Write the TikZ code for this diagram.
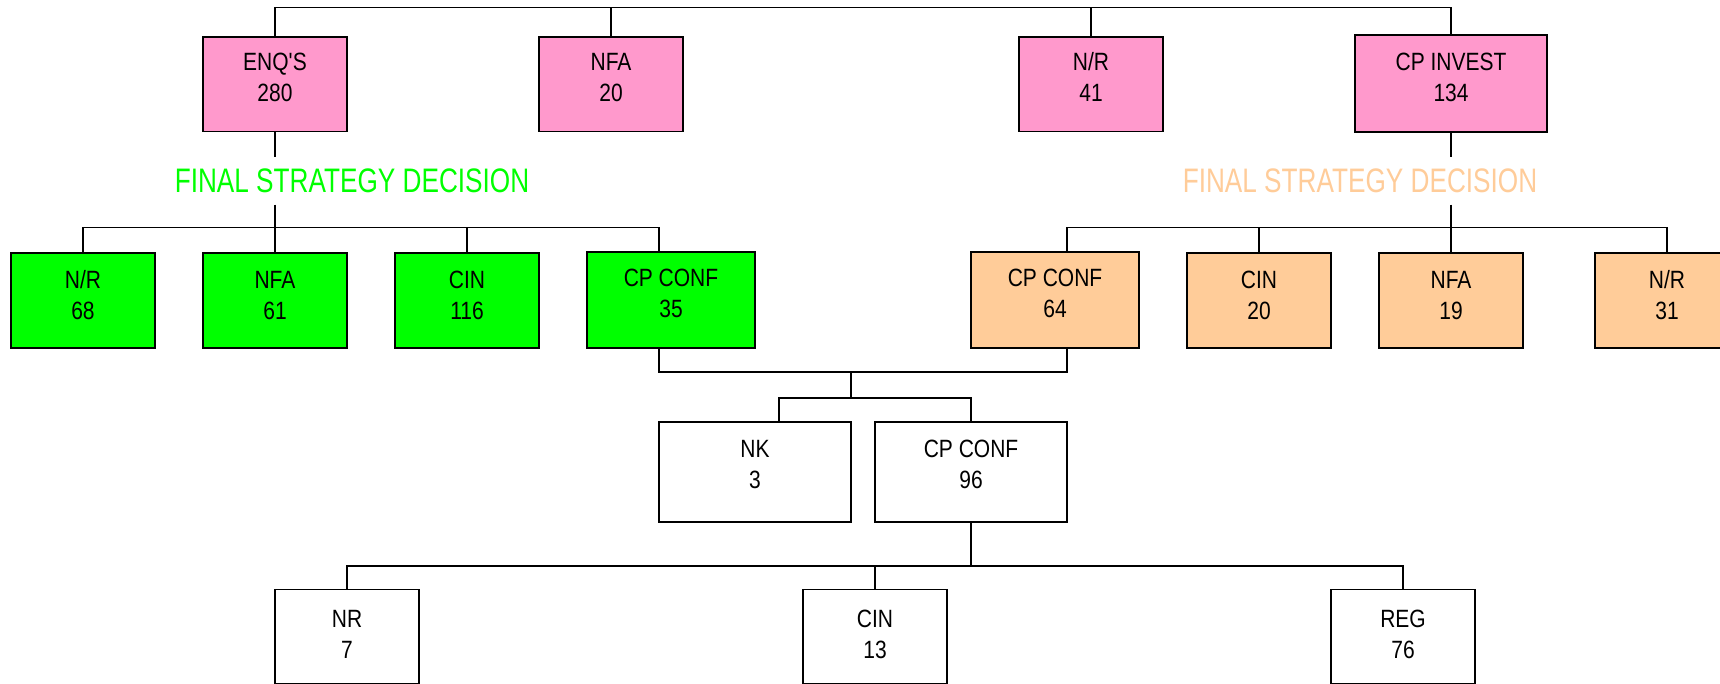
\documentclass[tikz,border=0pt]{standalone}
\usepackage{fontspec}
\newfontfamily\boxfont{Liberation Sans}[FakeStretch=0.84]
\newfontfamily\lblfont{Liberation Sans}[FakeStretch=0.77]
\definecolor{pinkfill}{HTML}{FF99CC}
\definecolor{greenfill}{HTML}{00FF00}
\definecolor{orangefill}{HTML}{FFCC99}
\newcommand\twol[3][18]{\raisebox{-#1pt}[0pt][0pt]{\begin{tabular}[b]{@{}c@{}}#2\\#3\end{tabular}}}
\tikzset{
  bx/.style={draw=black, line width=1.6pt, rectangle, inner sep=0pt,
    minimum width=144pt, minimum height=94.4pt, font=\boxfont\fontsize{25}{31}\selectfont},
  pinkbox/.style={bx, fill=pinkfill},
  greenbox/.style={bx, fill=greenfill},
  orangebox/.style={bx, fill=orangefill},
  whitebox/.style={bx, fill=white},
  lbl/.style={inner xsep=0pt, inner ysep=11.3pt, font=\lblfont\fontsize{34}{40}\selectfont},
  conn/.style={draw=black, line width=1.6pt}
}
\begin{document}
\begin{tikzpicture}[x=1pt,y=-1pt]
\useasboundingbox[fill=white] (0,0) rectangle (1720,684);
% top row
\node[pinkbox] (enq) at (275,84.5) {\twol[17.5]{ENQ'S}{280}};
\node[pinkbox] (nfa) at (611,84.5) {\twol[17.5]{NFA}{20}};
\node[pinkbox] (nr) at (1091,84.5) {\twol[17.5]{N/R}{41}};
\node[pinkbox, minimum width=192pt, minimum height=96.7pt] (cpi) at (1451,83.5) {\twol[18.5]{CP INVEST}{134}};
% labels
\node[lbl, text=greenfill] (gl) at (352,181) {FINAL STRATEGY DECISION};
\node[lbl, text=orangefill] (ol) at (1360,181) {FINAL STRATEGY DECISION};
% green row
\node[greenbox] (gnr) at (83,300.5) {\twol[19.5]{N/R}{68}};
\node[greenbox] (gnfa) at (275,300.5) {\twol[19.5]{NFA}{61}};
\node[greenbox] (gcin) at (467,300.5) {\twol[19.5]{CIN}{116}};
\node[greenbox, minimum width=168pt, minimum height=96pt] (gcc) at (671,299.8) {\twol[18.2]{CP CONF}{35}};
% orange row
\node[orangebox, minimum width=168pt, minimum height=96pt] (occ) at (1055,299.8) {\twol[18.2]{CP CONF}{64}};
\node[orangebox] (ocin) at (1259,300.5) {\twol[19.5]{CIN}{20}};
\node[orangebox] (onfa) at (1451,300.5) {\twol[19.5]{NFA}{19}};
\node[orangebox] (onr) at (1667,300.5) {\twol[19.5]{N/R}{31}};
% middle row
\node[whitebox, minimum width=192pt, minimum height=100pt] (nk) at (755,472) {\twol[16]{NK}{3}};
\node[whitebox, minimum width=192pt, minimum height=100pt] (wcc) at (971,472) {\twol[16]{CP CONF}{96}};
% bottom row
\node[whitebox, minimum height=94pt] (bnr) at (347,636.5) {\twol[21.5]{NR}{7}};
\node[whitebox, minimum height=94pt] (bcin) at (875,636.5) {\twol[21.5]{CIN}{13}};
\node[whitebox, minimum height=94pt] (breg) at (1403,636.5) {\twol[21.5]{REG}{76}};
% helper coordinates
\coordinate (topbar) at (0,7.5);
\coordinate (gbar) at (0,227.7);
\coordinate (obar) at (0,227.7);
\coordinate (mbar) at (0,372);
\coordinate (nbar) at (0,398);
\coordinate (bbar) at (0,566);
\coordinate (gccT) at ([xshift=-12pt]gcc.north);
\coordinate (gccB) at ([xshift=-12pt]gcc.south);
\coordinate (occT) at ([xshift=12pt]occ.north);
\coordinate (occB) at ([xshift=12pt]occ.south);
\coordinate (nkT) at ([xshift=24pt]nk.north);
\coordinate (mid) at (851,372);
% top connectors
\draw[conn] (enq.north) |- (cpi.north |- topbar) -- (cpi.north);
\draw[conn] (nfa.north) -- (nfa.north |- topbar);
\draw[conn] (nr.north) -- (nr.north |- topbar);
% green branch
\draw[conn] (enq.south) -- (enq.south |- gl.north);
\draw[conn] (enq.south |- gl.south) -- (enq.south |- gbar);
\draw[conn] (gnr.north) |- (gccT |- gbar) -- (gccT);
\draw[conn] (gnfa.north) -- (gnfa.north |- gbar);
\draw[conn] (gcin.north) -- (gcin.north |- gbar);
% orange branch
\draw[conn] (cpi.south) -- (cpi.south |- ol.north);
\draw[conn] (cpi.south |- ol.south) -- (cpi.south |- obar);
\draw[conn] (occT) |- (onr.north |- obar) -- (onr.north);
\draw[conn] (ocin.north) -- (ocin.north |- obar);
\draw[conn] (onfa.north) -- (onfa.north |- obar);
% merge
\draw[conn] (gccB) |- (occB |- mbar) -- (occB);
\draw[conn] (mid) -- (mid |- nbar);
\draw[conn] (nkT) |- (wcc.north |- nbar) -- (wcc.north);
% bottom
\draw[conn] (wcc.south) -- (wcc.south |- bbar);
\draw[conn] (bnr.north) |- (breg.north |- bbar) -- (breg.north);
\draw[conn] (bcin.north) -- (bcin.north |- bbar);
\end{tikzpicture}
\end{document}
